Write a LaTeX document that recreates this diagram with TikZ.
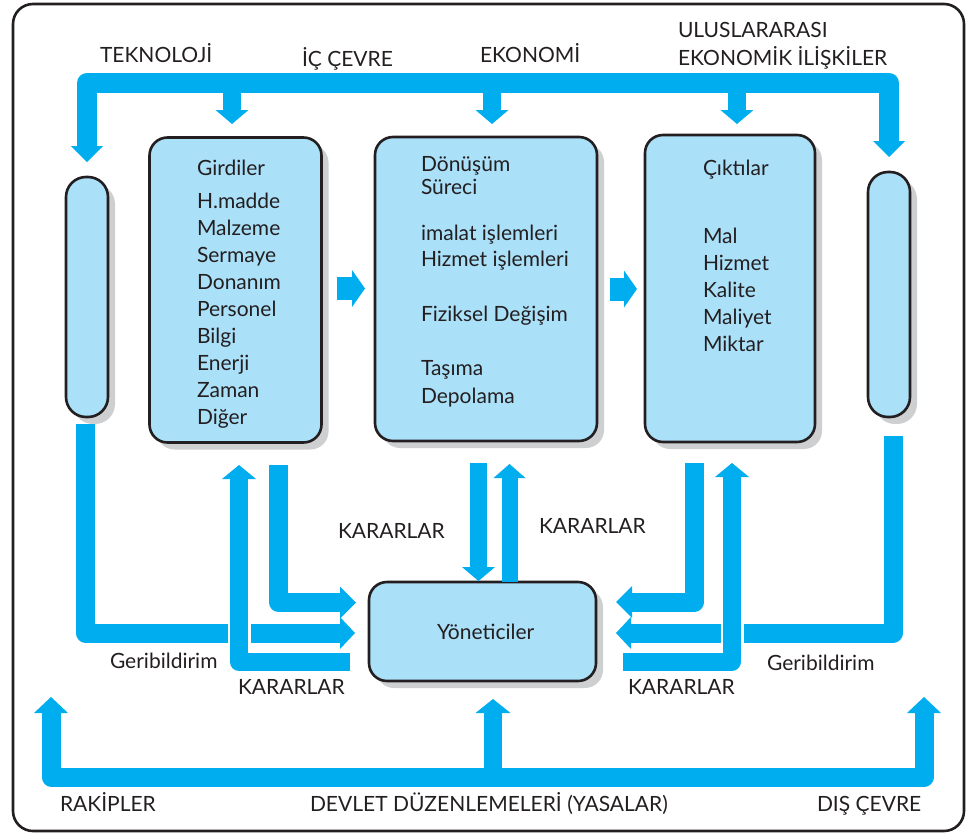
\documentclass[tikz,border=0pt]{standalone}
\usepackage{fontspec}
\setmainfont{Lato}
\usetikzlibrary{arrows.meta,shadows}
\definecolor{ablue}{RGB}{0,174,239}
\definecolor{lblue}{RGB}{171,224,249}
\definecolor{shgray}{RGB}{205,207,209}
\definecolor{txt}{RGB}{35,31,32}
\begin{document}
\begin{tikzpicture}[x=1pt,y=-1pt,
  every node/.style={font=\fontsize{21}{25}\selectfont, text=txt, inner sep=0pt, outer sep=0pt},
  lbl/.style={anchor=base west},
  box/.style={draw=txt, line width=2.6pt, fill=lblue, rounded corners=18pt,
    drop shadow={shadow xshift=7pt, shadow yshift=-7pt, fill=shgray, opacity=1}},
  pill/.style={box, rounded corners=20pt, minimum width=42pt},
  blk/.style={draw=ablue, line width=#1, line join=round},
  tip/.style 2 args={arrows={-{Triangle[width=#1,length=#2,line width=0pt]}}},
  tips/.style 2 args={arrows={{Triangle[width=#1,length=#2,line width=0pt]}-{Triangle[width=#1,length=#2,line width=0pt]}}},
  halo/.style={draw=white, line width=23pt}
]
\useasboundingbox (0,0) rectangle (969,835);
% outer frame
\draw[draw=txt, line width=2.6pt, rounded corners=20pt] (13,4) rectangle (964,831);

% boxes
\node[pill, minimum height=240pt] (lpill) at (87,297) {};
\node[pill, minimum height=245pt] (rpill) at (889,294.5) {};
\node[box, minimum width=172pt, minimum height=305pt] (girdi) at (235.5,290) {};
\node[box, minimum width=222pt, minimum height=304pt] (donus) at (486,289) {};
\node[box, minimum width=170pt, minimum height=307pt] (cikti) at (730,288.5) {};
\node[box, minimum width=227pt, minimum height=99pt] (yonet) at (482.5,631.5) {};

% box texts
\node[lbl] (t1) at (197,175) {Girdiler};
\node[lbl] (t2) at (197,208) {H.madde};
\node[lbl] (t3) at (197,235) {Malzeme};
\node[lbl] (t4) at (197,262) {Sermaye};
\node[lbl] (t5) at (197,289) {Donanım};
\node[lbl] (t6) at (197,316) {Personel};
\node[lbl] (t7) at (197,343) {Bilgi};
\node[lbl] (t8) at (197,370) {Enerji};
\node[lbl] (t9) at (197,397) {Zaman};
\node[lbl] (t10) at (197,424) {Diğer};

\node[lbl] (d1) at (421,171) {Dönüşüm};
\node[lbl] (d2) at (421,194) {Süreci};
\node[lbl] (d3) at (421,240) {imalat işlemleri};
\node[lbl] (d4) at (421,266) {Hizmet işlemleri};
\node[lbl] (d5) at (421,321) {Fiziksel Değişim};
\node[lbl] (d6) at (421,375) {Taşıma};
\node[lbl] (d7) at (421,403) {Depolama};

\node[lbl] (c1) at (703,175) {Çıktılar};
\node[lbl] (c2) at (703,243) {Mal};
\node[lbl] (c3) at (703,270) {Hizmet};
\node[lbl] (c4) at (703,297) {Kalite};
\node[lbl] (c5) at (703,324) {Maliyet};
\node[lbl] (c6) at (703,351) {Miktar};

\node[lbl] (y1) at (437,639) {Yöneticiler};

% outside labels
\node[lbl] (lt1) at (100,62) {TEKNOLOJİ};
\node[lbl] (lt2) at (302,66) {İÇ ÇEVRE};
\node[lbl] (lt3) at (480,62) {EKONOMİ};
\node[lbl] (lt4) at (678,37) {ULUSLARARASI};
\node[lbl] (lt5) at (678,65) {EKONOMİK İLİŞKİLER};
\node[lbl] (k1) at (338,538) {KARARLAR};
\node[lbl] (k2) at (539,533) {KARARLAR};
\node[lbl] (g1) at (110,668) {Geribildirim};
\node[lbl] (k3) at (238,694) {KARARLAR};
\node[lbl] (k4) at (628,694) {KARARLAR};
\node[lbl] (g2) at (767,670) {Geribildirim};
\node[lbl] (b1) at (60,811) {RAKİPLER};
\node[lbl] (b2) at (310,811) {DEVLET DÜZENLEMELERİ (YASALAR)};
\node[lbl] (b3) at (817,811) {DIŞ ÇEVRE};

% coordinates
\coordinate (tl) at (87,162);
\coordinate (tlc) at (87,83);
\coordinate (trc) at (889,83);
\coordinate (tr) at (889,157);

% top bar
\draw[blk=20pt, tips={32pt}{16pt}] (tl) -- (tlc) -- (trc) -- (tr);
\draw[blk=18pt, tip={33pt}{14pt}] (232,83) -- (232,124);
\draw[blk=18pt, tip={33pt}{14pt}] (492,83) -- (492,124);
\draw[blk=18pt, tip={33pt}{14pt}] (737,83) -- (737,124);

% between boxes
\draw[blk=23pt, tip={37pt}{13pt}] (337,288.5) -- (365,288.5);
\draw[blk=23pt, tip={37pt}{13pt}] (610,289) -- (637,289);

% middle verticals
\draw[blk=17pt, tip={33pt}{14pt}] (478.5,463) -- (478.5,581);
\draw[blk=16pt, tip={32pt}{14pt}] (509.5,582) -- (509.5,464);

% left L arrows
\draw[blk=19pt, tip={32pt}{15pt}] (85.5,424) -- (85.5,633) -- (355,633);
\draw[blk=19pt, tip={32pt}{16pt}] (278.5,465) -- (278.5,602.5) -- (356,602.5);
\draw[halo] (239,619) -- (239,647);
\draw[blk=18pt, tip={34pt}{14pt}] (350,662) -- (239,662) -- (239,465);

% right L arrows
\draw[blk=19pt, tip={32pt}{16pt}] (694.5,463) -- (694.5,602) -- (616,602);
\draw[blk=19pt, tip={32pt}{15pt}] (893,436) -- (893,633) -- (616,633);
\draw[halo] (732,619) -- (732,647);
\draw[blk=18pt, tip={34pt}{14pt}] (623,661.5) -- (732,661.5) -- (732,463);

% bottom bar
\draw[blk=19pt, tips={34pt}{16pt}] (51,697) -- (51,777) -- (924,777) -- (924,697);
\draw[blk=18pt, tip={35pt}{14pt}] (493,777) -- (493,699);
\end{tikzpicture}
\end{document}
